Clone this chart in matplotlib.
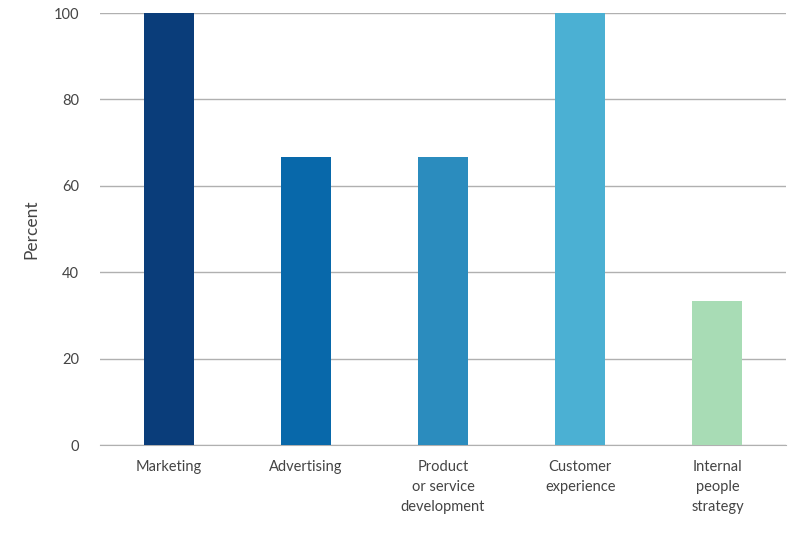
import matplotlib.pyplot as plt

categories = ["Marketing", "Advertising", "Product\nor service\ndevelopment",
              "Customer\nexperience", "Internal\npeople\nstrategy"]
values = [100, 66.67, 66.67, 100, 33.33]
colors = ["#0a3d7a", "#0868aa", "#2b8cbe", "#4bb0d3", "#a8dcb5"]

plt.rcParams['font.family'] = ['Lato', 'DejaVu Sans']

fig = plt.figure(figsize=(8, 5.33), dpi=100)
ax = fig.add_axes([0.125, 0.165, 0.8575, 0.8106])

x = range(len(categories))
ax.bar(x, values, width=0.365, color=colors, zorder=3)

ax.set_xlim(-0.5, 4.5)
ax.set_ylim(0, 100)
ax.set_yticks([0, 20, 40, 60, 80, 100])
ax.set_xticks(list(x))
ax.set_xticklabels(categories, fontsize=10.5, color="#444444", linespacing=1.55)
ax.tick_params(axis='y', labelsize=10.5, colors="#444444", length=0, pad=15)
ax.tick_params(axis='x', length=0, pad=11)
ax.grid(axis='y', color="#b0b0b0", linewidth=1, zorder=0)
for s in ["top", "right", "left"]:
    ax.spines[s].set_visible(False)
ax.spines["bottom"].set_color("#b0b0b0")
ax.set_ylabel("Percent", fontsize=12.5, color="#444444", labelpad=10)

fig.savefig("out.png", dpi=100)
